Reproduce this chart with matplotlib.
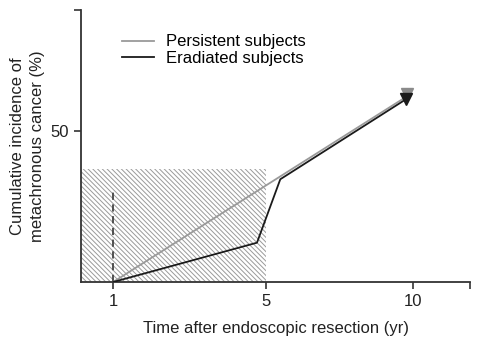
import matplotlib
matplotlib.use("Agg")
import matplotlib.pyplot as plt

plt.rcParams['font.family'] = ['Liberation Sans', 'DejaVu Sans']
plt.rcParams['hatch.linewidth'] = 0.7
plt.rcParams['hatch.color'] = '#9a9a9a'

# x positions are on the figure's own (non-linear) year scale
tick_pos = [1, 5, 8.85, 10.33]
tick_labels = ['1', '5', '10', '']

persistent_x = [1, 8.69]
persistent_y = [0, 61.5]
eradiated_x = [1, 4.76, 5.37, 8.66]
eradiated_y = [0, 13, 34, 60.5]

shade_x = [0.16, 5]
shade_top = 37.5
dash_x = 1
dash_top = 30

fig = plt.figure(figsize=(4.8, 3.46), dpi=100)
ax = fig.add_axes([0.169, 0.185, 0.81, 0.786])

ax.fill_between(shade_x, 0, shade_top, facecolor='white', edgecolor='#9a9a9a',
                hatch='\\' * 7, linewidth=0, zorder=1)
ax.plot([dash_x, dash_x], [0, dash_top], color='#444444', lw=1.3,
        ls=(0, (4, 2.5)), zorder=2)

ax.plot(persistent_x, persistent_y, color='#9a9a9a', lw=1.3, zorder=3,
        label='Persistent subjects')
ax.plot(persistent_x[-1:], [persistent_y[-1] + 0.8], marker='v', ms=8,
        color='#8a8a8a', ls='none', zorder=3)
ax.plot(eradiated_x, eradiated_y, color='#1a1a1a', lw=1.3, zorder=4,
        label='Eradiated subjects')
ax.plot(eradiated_x[-1:], eradiated_y[-1:], marker='v', ms=8,
        color='#1a1a1a', ls='none', zorder=4)

ax.set_xlim(0.16, 10.33)
ax.set_ylim(0, 90)
ax.set_xticks(tick_pos)
ax.set_xticklabels(tick_labels)
ax.set_yticks([50, 90])
ax.set_yticklabels(['50', ''])

for s in ['top', 'right']:
    ax.spines[s].set_visible(False)
for s in ['left', 'bottom']:
    ax.spines[s].set_color('#333333')
    ax.spines[s].set_linewidth(1.3)
ax.tick_params(colors='#333333', labelcolor='#222222', labelsize=12,
               length=5, width=1.2)

ax.set_xlabel('Time after endoscopic resection (yr)', fontsize=12,
              color='#222222', labelpad=9)
ax.set_ylabel('Cumulative incidence of\nmetachronous cancer (%)', fontsize=12,
              color='#222222', linespacing=1.45, labelpad=4)

ax.legend(loc='upper left', bbox_to_anchor=(0.088, 0.935), frameon=False,
          fontsize=12, handlelength=1.9, handletextpad=0.75,
          labelspacing=0.1, borderaxespad=0)

fig.savefig('out.png', dpi=100)
